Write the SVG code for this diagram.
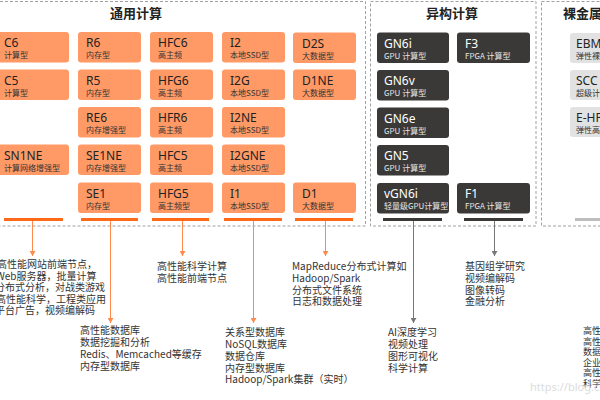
<svg xmlns="http://www.w3.org/2000/svg" width="600" height="400" viewBox="0 0 600 400">
<style>
text{font-family:"Noto Sans","Noto Sans CJK SC",sans-serif}
.frame{fill:none;stroke:#a0a0a0;stroke-width:1;stroke-dasharray:3 2}
.h{font-size:13px;font-weight:bold;fill:#222;text-anchor:middle;font-family:"Noto Sans CJK SC",sans-serif}
.o rect{fill:#FF9A66}
.d rect{fill:#3A3938}
.g rect{fill:#E2E2E2}
.t{font-size:12px;fill:#222}
.s{font-size:8px;fill:#333;font-family:"Noto Sans CJK SC",sans-serif}
.d .t{fill:#fff}
.d .s{fill:#e6e6e6}
.bo{stroke:#FF6A1A;stroke-width:3}
.bd{stroke:#3A3938;stroke-width:3}
.bg{stroke:#bdbdbd;stroke-width:3}
.co{stroke:#FF8A4C;stroke-width:1;fill:none;marker-end:url(#ao)}
.cd{stroke:#777;stroke-width:1;fill:none;marker-end:url(#ad)}
.lbl{font-size:10px;fill:#333;font-family:"Noto Sans CJK SC",sans-serif}
.lbs{font-size:9px;fill:#333;font-family:"Noto Sans CJK SC",sans-serif}
</style>
<defs>
<marker id="ao" markerWidth="6" markerHeight="6" refX="5" refY="3" orient="auto" markerUnits="userSpaceOnUse"><path d="M0,0 L5,3 L0,6 z" fill="#FF8A4C"/></marker>
<marker id="ad" markerWidth="6" markerHeight="6" refX="5" refY="3" orient="auto" markerUnits="userSpaceOnUse"><path d="M0,0 L5,3 L0,6 z" fill="#777"/></marker>
</defs>
<rect width="600" height="400" fill="#fff"/>
<!-- frames -->
<rect class="frame" x="-10" y="1.5" width="375.5" height="224.5"/>
<rect class="frame" x="370.5" y="1.5" width="165.5" height="224.5"/>
<rect class="frame" x="541.5" y="1.5" width="80" height="224.5"/>
<text class="h" x="136" y="18">通用计算</text>
<text class="h" x="452" y="18">异构计算</text>
<text class="h" x="563" y="18" style="text-anchor:start">裸金属服务器</text>

<!-- general compute nodes -->
<g id="C6" class="node o" transform="translate(-4,32)"><rect width="73" height="30.5" rx="3"/><text class="t" x="8" y="15">C6</text><text class="s" x="8" y="26">计算型</text></g>
<g id="C5" class="node o" transform="translate(-4,69.5)"><rect width="73" height="30.5" rx="3"/><text class="t" x="8" y="15">C5</text><text class="s" x="8" y="26">计算型</text></g>
<g id="SN1NE" class="node o" transform="translate(-4,144.5)"><rect width="73" height="30.5" rx="3"/><text class="t" x="8" y="15">SN1NE</text><text class="s" x="8" y="26">计算网络增强型</text></g>

<g id="R6" class="node o" transform="translate(78,32)"><rect width="63" height="30.5" rx="3"/><text class="t" x="8" y="15">R6</text><text class="s" x="8" y="26">内存型</text></g>
<g id="R5" class="node o" transform="translate(78,69.5)"><rect width="63" height="30.5" rx="3"/><text class="t" x="8" y="15">R5</text><text class="s" x="8" y="26">内存型</text></g>
<g id="RE6" class="node o" transform="translate(78,107)"><rect width="63" height="30.5" rx="3"/><text class="t" x="8" y="15">RE6</text><text class="s" x="8" y="26">内存增强型</text></g>
<g id="SE1NE" class="node o" transform="translate(78,144.5)"><rect width="63" height="30.5" rx="3"/><text class="t" x="8" y="15">SE1NE</text><text class="s" x="8" y="26">内存增强型</text></g>
<g id="SE1" class="node o" transform="translate(78,182.5)"><rect width="63" height="30.5" rx="3"/><text class="t" x="8" y="15">SE1</text><text class="s" x="8" y="26">内存型</text></g>

<g id="HFC6" class="node o" transform="translate(150,32)"><rect width="63" height="30.5" rx="3"/><text class="t" x="8" y="15">HFC6</text><text class="s" x="8" y="26">高主频</text></g>
<g id="HFG6" class="node o" transform="translate(150,69.5)"><rect width="63" height="30.5" rx="3"/><text class="t" x="8" y="15">HFG6</text><text class="s" x="8" y="26">高主频</text></g>
<g id="HFR6" class="node o" transform="translate(150,107)"><rect width="63" height="30.5" rx="3"/><text class="t" x="8" y="15">HFR6</text><text class="s" x="8" y="26">高主频</text></g>
<g id="HFC5" class="node o" transform="translate(150,144.5)"><rect width="63" height="30.5" rx="3"/><text class="t" x="8" y="15">HFC5</text><text class="s" x="8" y="26">高主频</text></g>
<g id="HFG5" class="node o" transform="translate(150,182.5)"><rect width="63" height="30.5" rx="3"/><text class="t" x="8" y="15">HFG5</text><text class="s" x="8" y="26">高主频型</text></g>

<g id="I2" class="node o" transform="translate(222,32)"><rect width="63" height="30.5" rx="3"/><text class="t" x="8" y="15">I2</text><text class="s" x="8" y="26">本地SSD型</text></g>
<g id="I2G" class="node o" transform="translate(222,69.5)"><rect width="63" height="30.5" rx="3"/><text class="t" x="8" y="15">I2G</text><text class="s" x="8" y="26">本地SSD型</text></g>
<g id="I2NE" class="node o" transform="translate(222,107)"><rect width="63" height="30.5" rx="3"/><text class="t" x="8" y="15">I2NE</text><text class="s" x="8" y="26">本地SSD型</text></g>
<g id="I2GNE" class="node o" transform="translate(222,144.5)"><rect width="63" height="30.5" rx="3"/><text class="t" x="8" y="15">I2GNE</text><text class="s" x="8" y="26">本地SSD型</text></g>
<g id="I1" class="node o" transform="translate(222,182.5)"><rect width="63" height="30.5" rx="3"/><text class="t" x="8" y="15">I1</text><text class="s" x="8" y="26">本地SSD型</text></g>

<g id="D2S" class="node o" transform="translate(293,32.5)"><rect width="63" height="30.5" rx="3"/><text class="t" x="9" y="15">D2S</text><text class="s" x="9" y="26">大数据型</text></g>
<g id="D1NE" class="node o" transform="translate(293,69.5)"><rect width="63" height="30.5" rx="3"/><text class="t" x="9" y="15">D1NE</text><text class="s" x="9" y="26">大数据型</text></g>
<g id="D1" class="node o" transform="translate(293,182.5)"><rect width="63" height="30.5" rx="3"/><text class="t" x="9" y="15">D1</text><text class="s" x="9" y="26">大数据型</text></g>

<!-- heterogeneous nodes -->
<g id="GN6i" class="node d" transform="translate(377,32.5)"><rect width="72" height="30.5" rx="3"/><text class="t" x="7" y="15">GN6i</text><text class="s" x="7" y="26">GPU 计算型</text></g>
<g id="GN6v" class="node d" transform="translate(377,70)"><rect width="72" height="30.5" rx="3"/><text class="t" x="7" y="15">GN6v</text><text class="s" x="7" y="26">GPU 计算型</text></g>
<g id="GN6e" class="node d" transform="translate(377,107.5)"><rect width="72" height="30.5" rx="3"/><text class="t" x="7" y="15">GN6e</text><text class="s" x="7" y="26">GPU 计算型</text></g>
<g id="GN5" class="node d" transform="translate(377,145)"><rect width="72" height="30.5" rx="3"/><text class="t" x="7" y="15">GN5</text><text class="s" x="7" y="26">GPU 计算型</text></g>
<g id="vGN6i" class="node d" transform="translate(377,183)"><rect width="72" height="30.5" rx="3"/><text class="t" x="7" y="15">vGN6i</text><text class="s" x="7" y="26">轻量级GPU计算型</text></g>
<g id="F3" class="node d" transform="translate(457,32.5)"><rect width="73" height="30.5" rx="3"/><text class="t" x="8" y="15">F3</text><text class="s" x="8" y="26">FPGA 计算型</text></g>
<g id="F1" class="node d" transform="translate(457,183)"><rect width="73" height="30.5" rx="3"/><text class="t" x="8" y="15">F1</text><text class="s" x="8" y="26">FPGA 计算型</text></g>

<!-- bare metal nodes -->
<g id="EBM" class="node g" transform="translate(570,33)"><rect width="60" height="30" rx="3"/><text class="t" x="6" y="15">EBM</text><text class="s" x="6" y="26">弹性裸金属</text></g>
<g id="SCC" class="node g" transform="translate(570,70)"><rect width="60" height="30" rx="3"/><text class="t" x="6" y="15">SCC</text><text class="s" x="6" y="26">超级计算集群</text></g>
<g id="E-HPC" class="node g" transform="translate(570,107)"><rect width="60" height="30" rx="3"/><text class="t" x="6" y="15">E-HPC</text><text class="s" x="6" y="26">弹性高性能计算</text></g>

<!-- connectors -->
<g id="connectors">
<line class="bo" x1="4" y1="219.5" x2="63" y2="219.5"/>
<line class="bo" x1="81" y1="219.5" x2="138" y2="219.5"/>
<line class="bo" x1="152" y1="219.5" x2="209" y2="219.5"/>
<line class="bo" x1="224" y1="219.5" x2="282" y2="219.5"/>
<line class="bo" x1="295" y1="219.5" x2="353" y2="219.5"/>
<line class="bd" x1="383" y1="219.5" x2="442" y2="219.5"/>
<line class="bd" x1="464" y1="219.5" x2="523" y2="219.5"/>
<line class="bg" x1="575" y1="219.5" x2="620" y2="219.5"/>
<path class="co" d="M32.5,221 V256"/>
<path class="co" d="M110.5,221 V323"/>
<path class="co" d="M182.5,221 V256"/>
<path class="co" d="M253.5,221 V323"/>
<path class="co" d="M325.5,221 V256"/>
<path class="cd" d="M413.5,221 V323"/>
<path class="cd" d="M494.5,221 V256"/>
</g>

<!-- labels -->
<text class="lbl"><tspan x="-3" y="268">高性能网站前端节点，</tspan><tspan x="-4" y="279.5">Web服务器，批量计算</tspan><tspan x="-5" y="291">分布式分析，对战类游戏</tspan><tspan x="-4" y="302.5">高性能科学，工程类应用</tspan><tspan x="-5" y="314">平台广告，视频编解码</tspan></text>
<text class="lbl"><tspan x="80" y="334">高性能数据库</tspan><tspan x="80" y="346">数据挖掘和分析</tspan><tspan x="80" y="358">Redis、Memcached等缓存</tspan><tspan x="80" y="370">内存型数据库</tspan></text>
<text class="lbl"><tspan x="157" y="270">高性能科学计算</tspan><tspan x="157" y="282">高性能前端节点</tspan></text>
<text class="lbl"><tspan x="225" y="336">关系型数据库</tspan><tspan x="225" y="348">NoSQL数据库</tspan><tspan x="225" y="360">数据仓库</tspan><tspan x="225" y="371.5">内存型数据库</tspan><tspan x="225" y="383">Hadoop/Spark集群（实时）</tspan></text>
<text class="lbl"><tspan x="292" y="270">MapReduce分布式计算如</tspan><tspan x="292" y="282">Hadoop/Spark</tspan><tspan x="292" y="294">分布式文件系统</tspan><tspan x="292" y="305">日志和数据处理</tspan></text>
<text class="lbl"><tspan x="388" y="336">AI深度学习</tspan><tspan x="388" y="348">视频处理</tspan><tspan x="388" y="360">图形可视化</tspan><tspan x="388" y="371.5">科学计算</tspan></text>
<text class="lbl"><tspan x="465" y="270">基因组学研究</tspan><tspan x="465" y="282">视频编解码</tspan><tspan x="465" y="294">图像转码</tspan><tspan x="465" y="305">金融分析</tspan></text>
<text class="lbs"><tspan x="583" y="334">高性能</tspan><tspan x="583" y="344.5">高性能</tspan><tspan x="583" y="355">数据库</tspan><tspan x="583" y="365.5">企业级</tspan><tspan x="583" y="376">高性能</tspan><tspan x="583" y="386.5">科学计</tspan></text>
<text x="530" y="391" font-size="11" fill="#dcdcdc" font-family="Liberation Sans, sans-serif">https://blog.csdn.net</text>
</svg>
